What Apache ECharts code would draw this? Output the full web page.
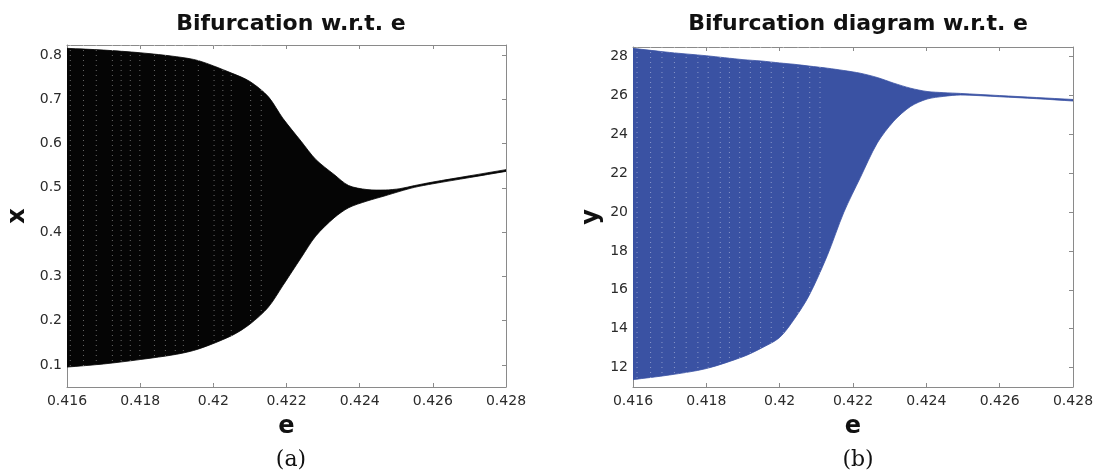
<!DOCTYPE html>
<html><head><meta charset="utf-8">
<script src="https://cdn.jsdelivr.net/npm/echarts@6/dist/echarts.min.js"></script>
<style>html,body{margin:0;padding:0;background:#fff}#c{width:1097px;height:470px}</style>
</head><body><div id="c"></div>
<script>
// tick labels
const eTicks = [0.416, 0.418, 0.42, 0.422, 0.424, 0.426, 0.428];
const xTicks = [0.1, 0.2, 0.3, 0.4, 0.5, 0.6, 0.7, 0.8];
const yTicks = [12, 14, 16, 18, 20, 22, 24, 26, 28];

// panel (a): envelope of x vs e
const eA     = [0.416, 0.417, 0.418, 0.419, 0.4196, 0.4205, 0.421, 0.4215, 0.4219, 0.4224, 0.4228, 0.4233, 0.4237, 0.4242, 0.4247, 0.4251, 0.4255, 0.426, 0.427, 0.428];
const xUpper = [0.815, 0.811, 0.805, 0.796, 0.787, 0.759, 0.740, 0.706, 0.657, 0.605, 0.564, 0.530, 0.505, 0.496, 0.495, 0.498, 0.505, 0.513, 0.527, 0.541];
const xLower = [0.095, 0.102, 0.112, 0.124, 0.136, 0.166, 0.192, 0.230, 0.279, 0.342, 0.391, 0.432, 0.455, 0.470, 0.482, 0.492, 0.501, 0.509, 0.523, 0.537];
// e positions of the light dotted stripes in panel (a)
const stripesA = [0.41609, 0.41645, 0.4168, 0.41724, 0.41748, 0.41773, 0.41799, 0.41839, 0.41869, 0.41896, 0.41918, 0.41959, 0.42002, 0.42026, 0.42049, 0.42102, 0.42131];

// panel (b): envelope of y vs e
const eB     = [0.416, 0.417, 0.418, 0.419, 0.4195, 0.42, 0.4204, 0.4208, 0.4213, 0.42175, 0.4222, 0.42266, 0.42311, 0.42357, 0.42402, 0.42448, 0.42493, 0.426, 0.427, 0.428];
const yUpper = [28.43, 28.22, 28.05, 27.85, 27.78, 27.68, 27.61, 27.52, 27.41, 27.29, 27.15, 26.93, 26.64, 26.38, 26.21, 26.15, 26.11, 26.0, 25.9, 25.8];
const yLower = [11.38, 11.62, 11.95, 12.56, 13.0, 13.55, 14.5, 15.7, 17.77, 19.99, 21.78, 23.55, 24.68, 25.44, 25.82, 25.96, 26.03, 25.94, 25.84, 25.72];
// e positions of the light dotted stripes in panel (b)
const stripesB = [0.41611, 0.41648, 0.41679, 0.41713, 0.41745, 0.41777, 0.41805, 0.41838, 0.41863, 0.41891, 0.4192, 0.41948, 0.41977, 0.4201, 0.4205, 0.42082, 0.4211];

const FRAME = '#8a8a8a';
const LABEL = '#2b2b2b';
const SANS = 'DejaVu Sans, sans-serif';

function band(idx, es, lo, hi, color) {
  return {
    type: 'custom', xAxisIndex: idx * 2, yAxisIndex: idx * 2,
    data: es.map((e, i) => [e, lo[i], hi[i]]),
    encode: { x: 0, y: [1, 2] },
    clip: true, silent: true, z: 1,
    renderItem: function (params, api) {
      if (params.dataIndex !== 0) return null;
      const n = es.length, pts = [];
      for (let i = 0; i < n; i++) {
        const p = api.coord([es[i], hi[i]]);
        pts.push(p);
        if (i === 0 || i === n - 1) pts.push(p.slice());
      }
      for (let i = n - 1; i >= 0; i--) {
        const p = api.coord([es[i], lo[i]]);
        pts.push(p);
        if (i === 0 || i === n - 1) pts.push(p.slice());
      }
      return { type: 'polygon', shape: { points: pts, smooth: 0.3 },
               style: { fill: color, stroke: color, lineWidth: 0.8 } };
    }
  };
}
function stripes(idx, es, min, max) {
  return {
    type: 'custom', xAxisIndex: idx * 2, yAxisIndex: idx * 2,
    data: es.map(e => [e]), encode: { x: 0 },
    clip: true, silent: true, z: 2,
    renderItem: function (params, api) {
      const e = api.value(0);
      const a = api.coord([e, max]), b = api.coord([e, min]);
      return { type: 'line', shape: { x1: a[0], y1: a[1], x2: b[0], y2: b[1] },
               style: { stroke: 'rgba(255,255,255,0.4)', lineWidth: 1, lineDash: [1, 4] } };
    }
  };
}

function xAxes(grid) {
  return [
    { type: 'value', gridIndex: grid, min: 0.416, max: 0.428, position: 'bottom',
      axisLine: { show: true, lineStyle: { color: FRAME } },
      axisTick: { show: true, inside: true, length: 4, customValues: eTicks, lineStyle: { color: FRAME } },
      axisLabel: { customValues: eTicks, color: LABEL, fontSize: 14, fontFamily: SANS, margin: 7 },
      splitLine: { show: false },
      name: 'e', nameLocation: 'middle', nameGap: 28,
      nameTextStyle: { fontSize: 24, fontWeight: 'bold', color: '#111', fontFamily: SANS } },
    { type: 'value', gridIndex: grid, min: 0.416, max: 0.428, position: 'top',
      axisLine: { show: true, lineStyle: { color: FRAME } },
      axisTick: { show: true, inside: true, length: 4, customValues: eTicks, lineStyle: { color: FRAME } },
      axisLabel: { show: false }, splitLine: { show: false } }
  ];
}
function yAxes(grid, min, max, ticks, name, gap) {
  return [
    { type: 'value', gridIndex: grid, min: min, max: max, position: 'left',
      axisLine: { show: true, lineStyle: { color: FRAME } },
      axisTick: { show: true, inside: true, length: 4, customValues: ticks, lineStyle: { color: FRAME } },
      axisLabel: { customValues: ticks, color: LABEL, fontSize: 14, fontFamily: SANS, margin: 5 },
      splitLine: { show: false },
      name: name, nameLocation: 'middle', nameGap: gap, nameRotate: 90,
      nameTextStyle: { fontSize: 24, fontWeight: 'bold', color: '#111', fontFamily: SANS } },
    { type: 'value', gridIndex: grid, min: min, max: max, position: 'right',
      axisLine: { show: true, lineStyle: { color: FRAME } },
      axisTick: { show: true, inside: true, length: 4, customValues: ticks, lineStyle: { color: FRAME } },
      axisLabel: { show: false }, splitLine: { show: false } }
  ];
}

const chart = echarts.init(document.getElementById('c'), null, { renderer: 'canvas' });
chart.setOption({
  animation: false,
  backgroundColor: '#fff',
  title: [
    { text: 'Bifurcation w.r.t. e', left: 286, textAlign: 'center', top: 8,
      textStyle: { fontSize: 22, fontWeight: 'bold', color: '#111', fontFamily: SANS } },
    { text: 'Bifurcation diagram w.r.t. e', left: 853, textAlign: 'center', top: 8,
      textStyle: { fontSize: 22, fontWeight: 'bold', color: '#111', fontFamily: SANS } },
    { text: '(a)', left: 286, textAlign: 'center', top: 444,
      textStyle: { fontSize: 22, fontWeight: 'normal', color: '#111', fontFamily: 'DejaVu Serif, serif' } },
    { text: '(b)', left: 853, textAlign: 'center', top: 444,
      textStyle: { fontSize: 22, fontWeight: 'normal', color: '#111', fontFamily: 'DejaVu Serif, serif' } }
  ],
  grid: [
    { left: 67, top: 45, width: 439, height: 342 },
    { left: 633, top: 47, width: 440, height: 340 }
  ],
  xAxis: [...xAxes(0), ...xAxes(1)],
  yAxis: [...yAxes(0, 0.05, 0.8225, xTicks, 'x', 37), ...yAxes(1, 11.0, 28.5, yTicks, 'y', 29)],
  series: [
    band(0, eA, xLower, xUpper, '#050505'),
    stripes(0, stripesA, 0.05, 0.8225),
    band(1, eB, yLower, yUpper, '#3a52a3'),
    stripes(1, stripesB, 11.0, 28.5)
  ]
});
</script>
</body></html>
